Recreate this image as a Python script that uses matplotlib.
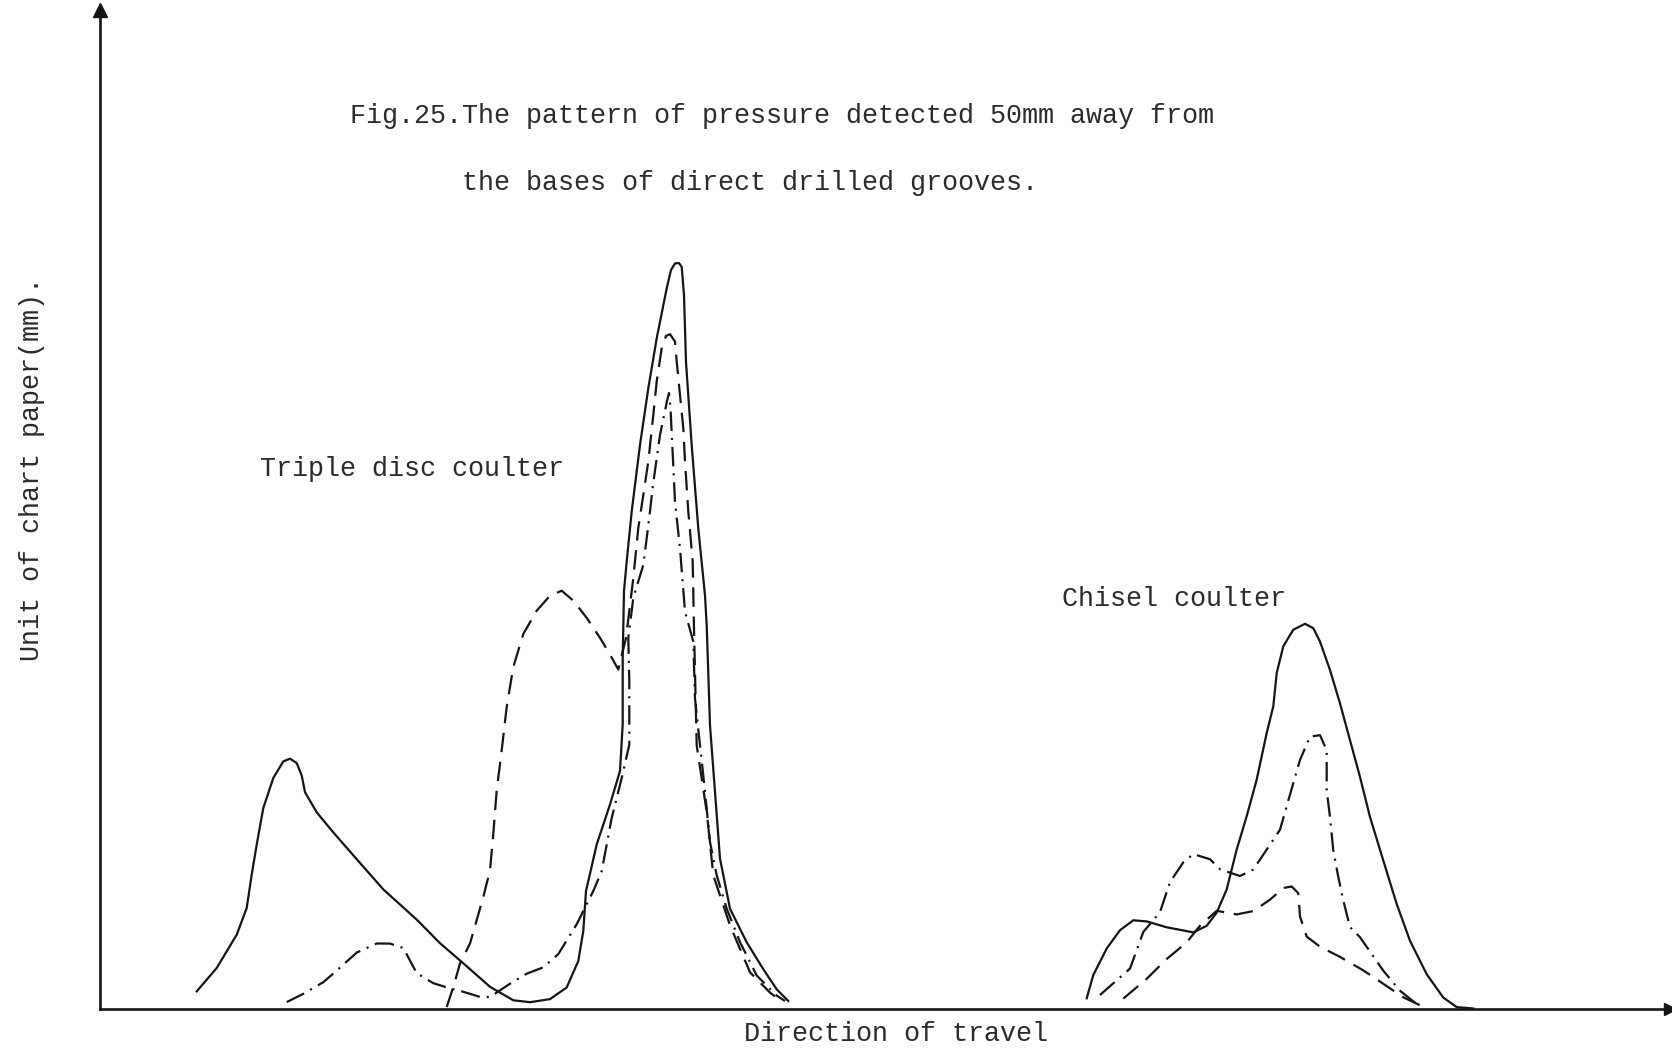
import matplotlib
matplotlib.use("Agg")
import matplotlib.pyplot as plt

plt.rcParams['lines.scale_dashes'] = False
FONT = ['Liberation Mono', 'DejaVu Sans Mono']

# ---- Triple disc coulter (x: chart mm along travel, y: chart units) ----
tdc_solid_x = [9.67, 11.67, 13.67, 14.67, 15.17, 15.67, 16.33, 17.33, 18.33, 19.0, 19.67, 20.17, 20.5,
               21.67, 23.33, 25.67, 28.33, 31.67, 34.0, 36.33, 39.0, 41.33, 43.0, 45.0, 46.67, 47.83,
               48.33, 48.6, 49.67, 51.0, 52.0, 52.27, 52.27, 52.4, 52.67, 53.17, 54.0, 54.83, 55.67,
               56.67, 57.1, 57.5, 57.9, 58.17, 58.4, 58.6, 59.17, 59.83, 60.5, 60.67, 61.0, 61.5, 62.0,
               63.0, 64.67, 66.33, 67.67, 68.83]
tdc_solid_y = [1.76, 4.10, 7.43, 10.1, 13.43, 16.43, 20.1, 23.1, 24.76, 25.03, 24.6, 23.35, 21.68,
               19.67, 17.66, 14.98, 11.96, 8.94, 6.58, 4.57, 2.22, 0.87, 0.68, 0.99, 2.15, 4.8,
               7.8, 11.8, 16.45, 20.45, 23.8, 28.45, 35.1, 41.8, 44.75, 49.75, 56.4, 62.07, 67.07,
               72.06, 73.9, 74.56, 74.6, 74.2, 71.4, 64.7, 56.37, 48.04, 41.37, 38.37, 28.37, 21.7,
               15.04, 10.03, 6.67, 3.98, 1.97, 0.8]

tdc_dash_x = [34.67, 35.33, 36.0, 37.0, 38.33, 39.0, 39.33, 39.67, 40.17, 40.67, 41.33, 42.33, 43.67,
              45.0, 46.17, 47.33, 48.67, 50.0, 51.0, 51.83, 52.6, 53.33, 53.83, 54.33, 54.83, 55.33,
              55.67, 56.17, 56.6, 57.0, 57.5, 57.67, 58.0, 58.33, 58.5, 58.83, 59.27, 59.4, 59.67,
              60.67, 61.33, 63.0, 65.0, 67.0, 68.2]
tdc_dash_y = [0.2, 2.2, 4.55, 6.55, 11.2, 13.87, 17.5, 21.87, 25.87, 30.2, 34.2, 37.5, 39.83,
              41.33, 41.83, 40.83, 39.12, 37.12, 35.45, 33.95, 37.1, 43.1, 48.1, 51.4, 54.75, 59.4,
              62.75, 66.08, 67.3, 67.48, 66.75, 64.75, 61.4, 58.07, 54.74, 49.74, 44.74, 38.05, 26.35,
              19.74, 13.37, 8.37, 3.67, 1.64, 0.7]

tdc_dashdot_x = [18.67, 20.33, 22.33, 23.67, 25.67, 27.67, 29.0, 30.33, 31.67, 33.33, 35.0, 36.33, 38.0,
                 39.0, 41.0, 42.67, 44.33, 45.83, 47.67, 49.33, 50.17, 51.17, 52.17, 52.93, 52.93, 52.83,
                 53.33, 54.33, 54.67, 55.0, 55.3, 56.0, 56.7, 56.9, 57.05, 57.5, 58.0, 58.5, 59.33,
                 59.5, 60.0, 60.33, 61.0, 61.67, 62.67, 64.0, 65.67, 67.67, 68.5]
tdc_dashdot_y = [0.69, 1.52, 2.68, 3.84, 5.64, 6.55, 6.54, 6.1, 3.59, 2.58, 2.06, 1.72, 1.21,
                 1.2, 2.53, 3.53, 4.17, 5.49, 8.48, 11.8, 13.79, 19.1, 23.1, 26.43, 32.77, 37.1,
                 41.1, 44.41, 47.08, 49.78, 52.4, 57.4, 60.8, 61.6, 60.1, 50.74, 46.04, 39.74, 36.74,
                 31.04, 26.37, 23.37, 16.7, 13.37, 10.04, 6.69, 3.35, 1.34, 0.8]

# ---- Chisel coulter ----
ch_solid_x = [98.67, 99.33, 100.67, 102.0, 103.33, 104.67, 106.67, 109.33, 110.67, 111.67, 112.67,
              113.67, 114.67, 115.67, 116.67, 117.33, 117.67, 118.33, 119.33, 120.5, 121.33, 122.0,
              123.0, 124.0, 125.0, 126.0, 127.0, 128.33, 129.67, 131.0, 132.67, 134.33, 135.67, 137.33]
ch_solid_y = [1.07, 3.4, 6.05, 7.88, 8.87, 8.76, 8.17, 7.66, 8.32, 9.64, 11.96,
              15.95, 19.28, 22.94, 27.6, 30.27, 33.6, 36.27, 37.93, 38.52, 38.08, 36.74,
              33.9, 30.56, 26.88, 23.21, 19.2, 14.84, 10.5, 6.82, 3.48, 1.14, 0.19, 0.05]

ch_dash_x = [102.33, 104.67, 106.67, 108.67, 110.0, 111.67, 113.67, 115.33, 117.0, 118.33, 119.17,
             119.83, 120.0, 120.67, 122.0, 124.0, 126.33, 128.33, 130.33, 132.33]
ch_dash_y = [1.04, 3.02, 5.0, 6.66, 8.33, 9.82, 9.46, 9.79, 10.93, 12.1, 12.25,
             11.58, 9.25, 7.24, 6.23, 5.21, 3.86, 2.52, 1.17, 0.22]

ch_dashdot_x = [100.0, 103.0, 104.33, 106.0, 107.0, 108.33, 109.33, 111.0, 112.0, 114.0, 115.33,
                116.67, 118.0, 119.33, 120.0, 121.0, 122.0, 122.67, 122.67, 123.0, 123.33, 123.83,
                124.33, 125.0, 126.0, 128.33, 130.0, 131.67]
ch_dashdot_y = [1.4, 4.04, 7.7, 9.69, 12.68, 14.67, 15.49, 14.98, 13.97, 13.3, 13.95,
                15.94, 17.93, 22.59, 24.91, 27.24, 27.38, 25.87, 21.87, 19.2, 15.86, 13.19,
                10.85, 8.19, 7.18, 3.83, 1.83, 0.49]

title_1 = "Fig.25.The pattern of pressure detected 50mm away from"
title_2 = "the bases of direct drilled grooves."
label_tdc = "Triple disc coulter"
label_ch = "Chisel coulter"
x_label = "Direction of travel"
y_label = "Unit of chart paper(mm)."

W, H = 1672, 1050
fig = plt.figure(figsize=(W / 100, H / 100), dpi=100)
fig.patch.set_facecolor('white')
ax = fig.add_axes([100 / W, 41 / H, 1570 / W, 999 / H])
ax.set_xlim(0, 157)
ax.set_ylim(0, 99.9)
ax.set_facecolor('white')
for s in ['top', 'right']:
    ax.spines[s].set_visible(False)
for s in ['left', 'bottom']:
    ax.spines[s].set_linewidth(1.9)
    ax.spines[s].set_color('#151515')
ax.set_xticks([])
ax.set_yticks([])

ink = '#151515'
lw = 1.6
dash = (0, (14, 7))
dashdot = (0, (14, 5, 1.5, 5))

ax.plot(tdc_solid_x, tdc_solid_y, color=ink, lw=lw, solid_joinstyle='round')
ax.plot(tdc_dash_x, tdc_dash_y, color=ink, lw=lw, linestyle=dash)
ax.plot(tdc_dashdot_x, tdc_dashdot_y, color=ink, lw=lw, linestyle=dashdot)
ax.plot(ch_solid_x, ch_solid_y, color=ink, lw=lw, solid_joinstyle='round')
ax.plot(ch_dash_x, ch_dash_y, color=ink, lw=lw, linestyle=dash)
ax.plot(ch_dashdot_x, ch_dashdot_y, color=ink, lw=lw, linestyle=dashdot)

# axis arrowheads
ax.plot([0], [1], marker='^', markersize=10, color=ink, transform=ax.transAxes, clip_on=False)
ax.plot([1], [0], marker='>', markersize=9, color=ink, transform=ax.transAxes, clip_on=False)

tcol = '#2b2b2b'
fs = 19.3
fig.text(350 / W, 1 - 123 / H, title_1, fontsize=fs, family=FONT, color=tcol, ha='left', va='baseline')
fig.text(461.7 / W, 1 - 190 / H, title_2, fontsize=fs, family=FONT, color=tcol, ha='left', va='baseline')
fig.text(260 / W, 1 - 469 / H, label_tdc, fontsize=fs, family=FONT, color=tcol, ha='left', va='center')
fig.text(1062 / W, 1 - 599 / H, label_ch, fontsize=fs, family=FONT, color=tcol, ha='left', va='center')
fig.text(895.7 / W, 1 - 1034 / H, x_label, fontsize=fs, family=FONT, color=tcol, ha='center', va='center')
fig.text(32 / W, 1 - 469 / H, y_label, fontsize=fs, family=FONT, color=tcol, ha='center', va='center',
         rotation=90)

fig.savefig('out.png', dpi=100, facecolor='white')
